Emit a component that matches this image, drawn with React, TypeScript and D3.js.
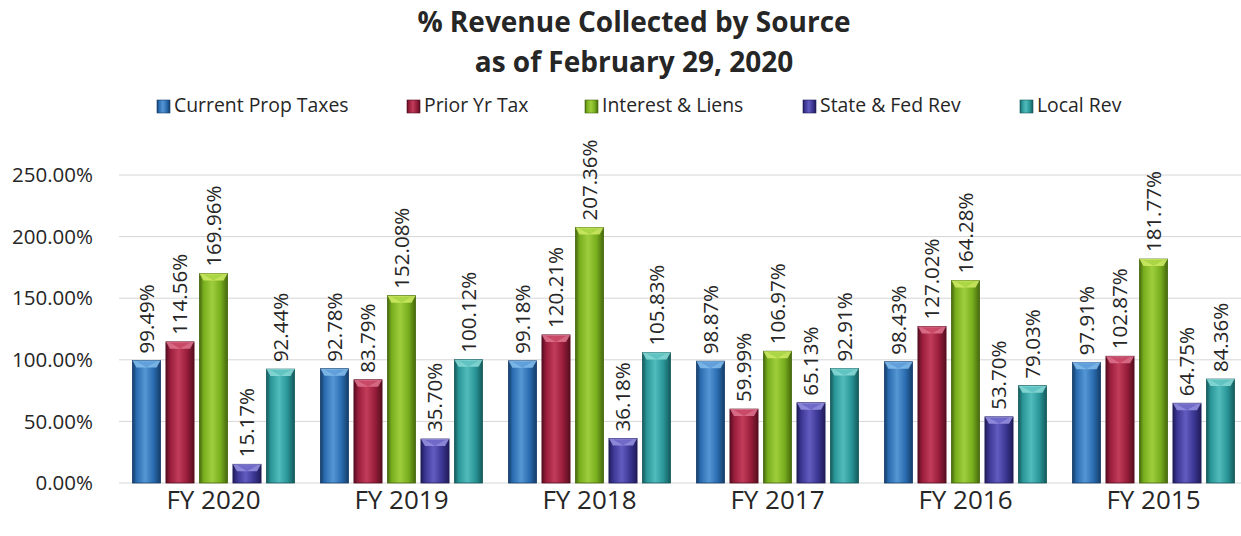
import * as d3 from 'd3';

const years = ['FY 2020', 'FY 2019', 'FY 2018', 'FY 2017', 'FY 2016', 'FY 2015'];
const seriesNames = ['Current Prop Taxes', 'Prior Yr Tax', 'Interest & Liens', 'State & Fed Rev', 'Local Rev'];
const currentProp = [99.49, 92.78, 99.18, 98.87, 98.43, 97.91];
const priorYr = [114.56, 83.79, 120.21, 59.99, 127.02, 102.87];
const interestLiens = [169.96, 152.08, 207.36, 106.97, 164.28, 181.77];
const stateFed = [15.17, 35.7, 36.18, 65.13, 53.7, 64.75];
const localRev = [92.44, 100.12, 105.83, 92.91, 79.03, 84.36];
const yTicks = [0, 50, 100, 150, 200, 250];

const values = [currentProp, priorYr, interestLiens, stateFed, localRev];

// gradient stops per series
const palette = [
  { base: '#2a6cb0', light: '#5596d4', dark: '#153c68', top: '#86c0ee' },
  { base: '#981d3b', light: '#c23c5a', dark: '#560e20', top: '#e07590' },
  { base: '#78ae1e', light: '#9fce3c', dark: '#45680d', top: '#d0ec66' },
  { base: '#3b3692', light: '#625cc0', dark: '#201c58', top: '#9a94e4' },
  { base: '#299596', light: '#52bcbc', dark: '#15595b', top: '#8cdcd8' },
];

const W = 1241;
const H = 536;
const font = '"Open Sans", Lato, sans-serif';

export default function App() {
  const y = d3.scaleLinear().domain([0, 250]).range([483, 175]);
  const x0 = d3.scaleBand<string>().domain(years).range([119.5, 1247.5]).padding(0);
  const x1 = d3
    .scaleBand<string>()
    .domain(seriesNames)
    .range([0, x0.bandwidth()])
    .paddingInner(0.16)
    .paddingOuter(0.386);
  const bw = x1.bandwidth();
  const fmt = (v: number) => `${v.toFixed(2)}%`;

  const legendX = [157, 407, 585, 803, 1020];

  return (
    <svg
      width={W}
      height={H}
      style={{ position: 'absolute', left: 0, top: 0, background: '#fff' }}
      fontFamily={font}
    >
      <defs>
        {palette.map((p, i) => (
          <linearGradient key={i} id={`g${i}`} x1="0" x2="1" y1="0" y2="0">
            <stop offset="0" stopColor={p.dark} />
            <stop offset="0.15" stopColor={p.base} />
            <stop offset="0.45" stopColor={p.light} />
            <stop offset="0.75" stopColor={p.base} />
            <stop offset="1" stopColor={p.dark} />
          </linearGradient>
        ))}
      </defs>

      <text x={634} y={32} textAnchor="middle" fontSize={28} fontWeight={700} fill="#262626">
        % Revenue Collected by Source
      </text>
      <text x={634} y={72} textAnchor="middle" fontSize={28} fontWeight={700} fill="#262626">
        as of February 29, 2020
      </text>

      {seriesNames.map((s, i) => (
        <g key={s} transform={`translate(${legendX[i]},0)`}>
          <rect x={0} y={100} width={13} height={13} fill={`url(#g${i})`} stroke={palette[i].dark} strokeWidth={0.6} />
          <text x={17} y={112} fontSize={19.4} fill="#262626">
            {s}
          </text>
        </g>
      ))}

      {yTicks.map((t) => (
        <g key={t}>
          <line x1={119} x2={1241} y1={y(t)} y2={y(t)} stroke="#d6d6d6" strokeWidth={1} />
          <text x={93} y={y(t)} dy="0.35em" textAnchor="end" fontSize={20.5} fill="#262626">
            {fmt(t)}
          </text>
        </g>
      ))}

      {years.map((yr, gi) => (
        <g key={yr} transform={`translate(${x0(yr)},0)`}>
          {seriesNames.map((s, si) => {
            const v = values[si][gi];
            const bx = x1(s)!;
            const top = y(v);
            const base = y(0);
            const p = palette[si];
            const bev = Math.min(7, (base - top) / 2);
            return (
              <g key={s}>
                <rect x={bx} y={top} width={bw} height={base - top} fill={`url(#g${si})`} stroke={p.dark} strokeWidth={0.8} />
                <polygon
                  points={`${bx},${top} ${bx + bw},${top} ${bx + bw - 4},${top + bev} ${bx + 4},${top + bev}`}
                  fill={p.top}
                  opacity={0.85}
                />
                <polygon
                  points={`${bx + 4},${top + 1} ${bx + bw - 4},${top + 1} ${bx + bw / 2},${top + bev}`}
                  fill={p.light}
                  opacity={0.7}
                />
                <text
                  transform={`translate(${bx + bw / 2},${top - 7}) rotate(-90)`}
                  dy="0.35em"
                  fontSize={20.5}
                  fill="#262626"
                >
                  {fmt(v)}
                </text>
              </g>
            );
          })}
          <text x={x0.bandwidth() / 2} y={509} textAnchor="middle" fontSize={26} fill="#262626">
            {yr}
          </text>
        </g>
      ))}
    </svg>
  );
}
